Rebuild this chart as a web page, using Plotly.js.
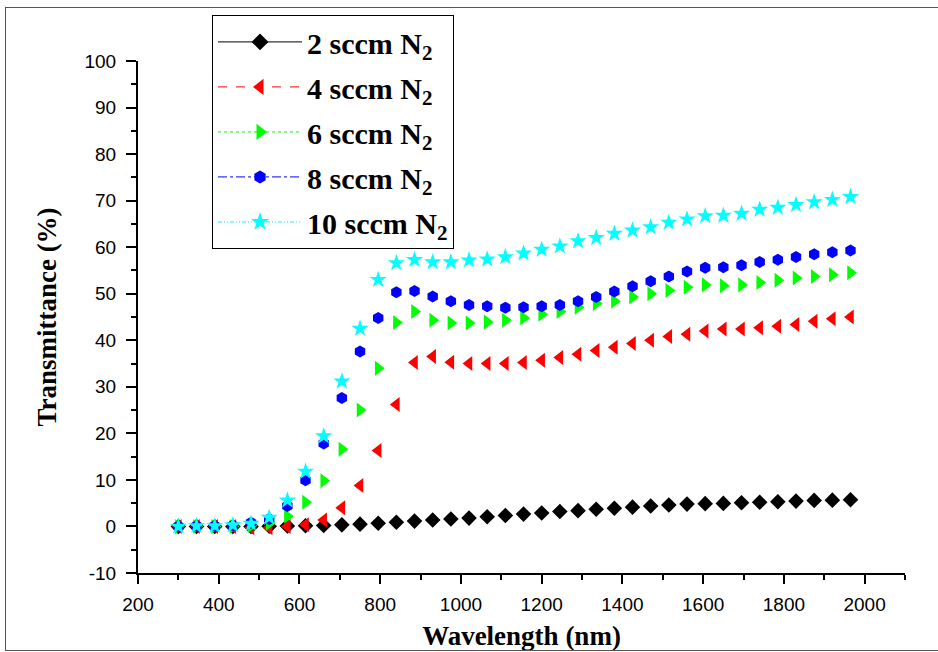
<!DOCTYPE html>
<html>
<head>
<meta charset="utf-8">
<script src="https://cdn.plot.ly/plotly-3.0.1.min.js"></script>
<style>
  html, body { margin: 0; padding: 0; background: #fff; overflow: hidden; }
  #wrap { position: relative; width: 938px; height: 652px; }
  #chart { position: absolute; left: 0; top: 0; width: 938px; height: 652px; }
  #frame { position: absolute; left: 5px; top: 7px; width: 1000px; height: 642px;
           border: 1px solid #555; pointer-events: none; }
</style>
</head>
<body>
<div id="wrap">
  <div id="chart"></div>
  <div id="frame"></div>
</div>
<script>
const wavelength = [300,345,390,435,480,525,570,615,660,705,750,795,840,885,930,975,1020,1065,1110,1155,1200,1245,1290,1335,1380,1425,1470,1515,1560,1605,1650,1695,1740,1785,1830,1875,1920,1965];
const t2sccm  = [0,0,0,0,0,0.05,0.1,0.15,0.2,0.35,0.5,0.7,0.9,1.15,1.4,1.6,1.8,2.1,2.35,2.65,2.9,3.2,3.4,3.7,3.9,4.15,4.4,4.6,4.8,4.9,4.95,5.1,5.2,5.3,5.45,5.6,5.65,5.75];
const t4sccm  = [0,0,0,0,-0.3,-0.3,0,0.35,1.4,4.0,8.8,16.3,26.2,35.2,36.5,35.3,35.0,35.0,35.0,35.2,35.7,36.3,37.0,37.8,38.5,39.3,40.0,40.8,41.3,42.0,42.4,42.4,42.7,43.0,43.4,44.1,44.6,45.0];
const t6sccm  = [0,0,0,0,0.2,0.7,2.2,5.2,9.8,16.6,25.0,34.0,43.8,46.2,44.3,43.7,43.7,43.9,44.3,44.8,45.6,46.2,47.1,47.9,48.4,49.3,50.0,50.7,51.4,51.9,51.7,51.9,52.4,52.9,53.4,53.7,54.1,54.5];
const t8sccm  = [0,0.1,0.1,0.2,0.8,1.6,4.4,9.9,17.8,27.6,37.6,44.8,50.3,50.6,49.4,48.4,47.6,47.3,47.0,47.1,47.3,47.6,48.4,49.3,50.5,51.6,52.7,53.7,54.8,55.6,55.7,56.1,56.8,57.3,57.9,58.5,58.9,59.3];
const t10sccm = [0,0.1,0.1,0.3,0.6,1.9,5.6,11.8,19.4,31.2,42.5,53.0,56.6,57.3,56.8,56.8,57.2,57.4,57.9,58.7,59.5,60.2,61.3,62.0,62.9,63.6,64.3,65.3,66.0,66.7,66.8,67.2,68.1,68.5,69.1,69.7,70.2,70.8];
const seriesNames = ['2 sccm N<sub>2</sub>','4 sccm N<sub>2</sub>','6 sccm N<sub>2</sub>','8 sccm N<sub>2</sub>','10 sccm N<sub>2</sub>'];
const yTickValues = [-10,0,10,20,30,40,50,60,70,80,90,100];
const yTickLabels = ['-10','0','10','20','30','40','50','60','70','80','90','100'];

const seriesValues = [t2sccm, t4sccm, t6sccm, t8sccm, t10sccm];
const styles = [
  {color:'#000000', symbol:'diamond', size:12, dash:'solid'},
  {color:'#ff0000', symbol:'triangle-left', size:13, dash:'dash'},
  {color:'#00ff00', symbol:'triangle-right', size:13, dash:'dot'},
  {color:'#0000ff', symbol:'hexagon', size:12, dash:'dashdot'},
  {color:'#00ffff', symbol:'star', size:13, dash:'4px,2px,1px,2px,1px,2px'}
];

const traces = [];
seriesValues.forEach((vals, i) => {
  const s = styles[i];
  traces.push({
    x: wavelength, y: vals, type:'scatter', mode:'markers', name: seriesNames[i],
    showlegend:false, legendgroup:'g'+i,
    marker:{symbol:s.symbol, size:s.size, color:s.color, line:{width:0}}
  });
});
seriesValues.forEach((vals, i) => {
  const s = styles[i];
  traces.push({
    x:[null], y:[null], type:'scatter', mode:'lines+markers', name: seriesNames[i],
    showlegend:true, legendgroup:'g'+i,
    line:{color:s.color, width:1, dash:s.dash},
    marker:{symbol:s.symbol, size:s.size+1, color:s.color, line:{width:0}}
  });
});

const axisFont = {family:'"Liberation Sans", Arial, sans-serif', size:19, color:'#000'};
const titleFont = {family:'"Liberation Serif", "Times New Roman", serif', size:27, color:'#000', weight:'bold'};

const layout = {
  width:938, height:652,
  margin:{l:138, r:33, t:61, b:79, autoexpand:false},
  paper_bgcolor:'#fff', plot_bgcolor:'#fff',
  showlegend:true,
  xaxis:{
    range:[200,2100], tick0:200, dtick:200, showgrid:false, zeroline:false,
    showline:true, linecolor:'#000', linewidth:2, mirror:false,
    ticks:'outside', ticklen:9, tickwidth:2, tickcolor:'#000',
    tickfont:axisFont, ticklabelstandoff:4,
    minor:{ticks:'outside', dtick:100, tick0:200, ticklen:5, tickwidth:2, tickcolor:'#000', showgrid:false},
    title:{text:'Wavelength (nm)', font:titleFont, standoff:12},
    automargin:false
  },
  yaxis:{
    range:[-10,100], tickmode:'array', tickvals:yTickValues, ticktext:yTickLabels,
    showgrid:false, zeroline:false,
    showline:true, linecolor:'#000', linewidth:2, mirror:false,
    ticks:'outside', ticklen:10, tickwidth:2, tickcolor:'#000',
    tickfont:axisFont, ticklabelstandoff:6,
    minor:{ticks:'outside', dtick:5, tick0:0, ticklen:5, tickwidth:2, tickcolor:'#000', showgrid:false},
    title:{text:'Transmittance (%)', font:titleFont, standoff:20},
    automargin:false
  },
  legend:{
    x:0.0965, y:1.09, xanchor:'left', yanchor:'top',
    bgcolor:'#fff', bordercolor:'#000', borderwidth:1,
    font:{family:'"Liberation Serif", "Times New Roman", serif', size:30, color:'#000', weight:'bold'},
    itemwidth:84, tracegroupgap:3, traceorder:'grouped',
    itemclick:false, itemdoubleclick:false
  }
};

Plotly.newPlot('chart', traces, layout, {displayModeBar:false, staticPlot:true});
</script>
</body>
</html>
